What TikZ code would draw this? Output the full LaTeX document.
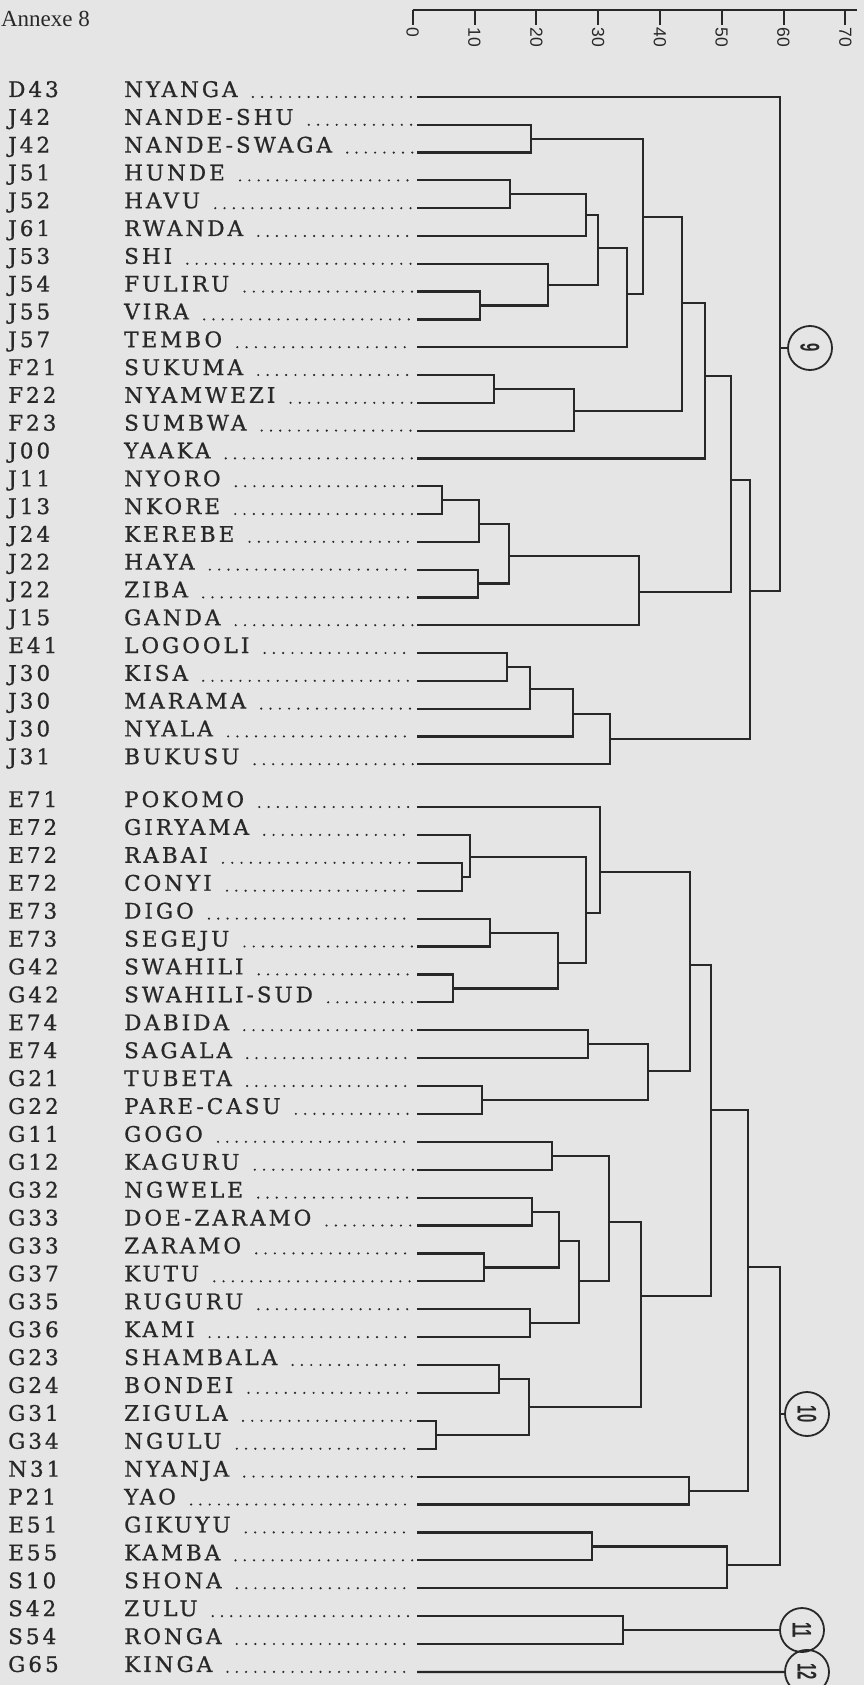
\documentclass[tikz,border=0pt]{standalone}
\usepackage{graphicx}
\usepackage{fontspec}
\setmainfont{DejaVu Serif}
\newfontfamily\annexfont{Liberation Serif}
\newfontfamily\axisfont{Liberation Sans}
\newfontfamily\labfont[LetterSpace=14,FakeBold=0.8]{DejaVu Serif}

\definecolor{paper}{RGB}{229,229,229}
\definecolor{ink}{RGB}{40,40,40}

% one merge of the tree: name, x of the bar, y of the outgoing branch, upper, lower
\newcommand\clade[5]{%
  \coordinate (#1) at (#2,#3);
  \draw[link] (#4) -- (#4 -| #1) -- (#5 -| #1) -- (#5);
}

\begin{document}
\begin{tikzpicture}[x=1pt,y=-1pt,
    link/.style={ink,line width=2.2pt},
    leader/.style={ink,line width=2.4pt,line cap=round,dash pattern=on 0pt off 9.3pt},
    code/.style={anchor=base west,inner sep=0pt,text=ink,font=\labfont\fontsize{21.5}{24}\selectfont},
    lang/.style={code},
    grp/.style={circle,draw=ink,line width=1.8pt,minimum size=44pt,inner sep=0pt,text=ink,rotate=-90,
      font=\axisfont\bfseries\fontsize{27}{27}\selectfont}]
  \useasboundingbox (0,0) rectangle (864,1685);
  \fill[paper] (0,0) rectangle (864,1685);

  \node[anchor=base east,inner sep=0pt,text=ink,font=\annexfont\fontsize{23}{26}\selectfont] (annex) at (90,26.5) {Annexe 8};

  % scale
  \coordinate (ax0) at (412.7,10);
  \coordinate (ax1) at (857,10);
  \draw[link,line width=2pt] (ax0) -- (ax1);
  \foreach \t in {0,10,...,70}{
    \draw[link,line width=2pt] ({412.7+6.18*\t},10) -- ++(0,15)
      node[anchor=west,rotate=-90,inner sep=2pt,text=ink,font=\axisfont\fontsize{17.5}{17.5}\selectfont] {\t};
  }

  % languages, first block
  \foreach \code/\lang/\key [count=\i from 0] in {D43/NYANGA/nyanga, J42/NANDE-SHU/nandeshu,
      J42/NANDE-SWAGA/nandeswaga, J51/HUNDE/hunde, J52/HAVU/havu, J61/RWANDA/rwanda, J53/SHI/shi,
      J54/FULIRU/fuliru, J55/VIRA/vira, J57/TEMBO/tembo, F21/SUKUMA/sukuma, F22/NYAMWEZI/nyamwezi,
      F23/SUMBWA/sumbwa, J00/YAAKA/yaaka, J11/NYORO/nyoro, J13/NKORE/nkore, J24/KEREBE/kerebe,
      J22/HAYA/haya, J22/ZIBA/ziba, J15/GANDA/ganda, E41/LOGOOLI/logooli, J30/KISA/kisa,
      J30/MARAMA/marama, J30/NYALA/nyala, J31/BUKUSU/bukusu}{
    \pgfmathsetmacro\yy{97+27.8*\i}
    \node[code] (c-\key) at (8,\yy) {\code};
    \node[lang] (n-\key) at (124,\yy) {\lang};
    \coordinate (d-\key) at (413,\yy);
    \coordinate (\key) at (417,\yy);
    \draw[leader] (n-\key.base east) ++(15,0) -- (d-\key);
  }

  % languages, second block
  \foreach \code/\lang/\key [count=\i from 0] in {E71/POKOMO/pokomo, E72/GIRYAMA/giryama,
      E72/RABAI/rabai, E72/CONYI/conyi, E73/DIGO/digo, E73/SEGEJU/segeju, G42/SWAHILI/swahili,
      G42/SWAHILI-SUD/swahilisud, E74/DABIDA/dabida, E74/SAGALA/sagala, G21/TUBETA/tubeta,
      G22/PARE-CASU/parecasu, G11/GOGO/gogo, G12/KAGURU/kaguru, G32/NGWELE/ngwele,
      G33/DOE-ZARAMO/doezaramo, G33/ZARAMO/zaramo, G37/KUTU/kutu, G35/RUGURU/ruguru,
      G36/KAMI/kami, G23/SHAMBALA/shambala, G24/BONDEI/bondei, G31/ZIGULA/zigula,
      G34/NGULU/ngulu, N31/NYANJA/nyanja, P21/YAO/yao, E51/GIKUYU/gikuyu, E55/KAMBA/kamba,
      S10/SHONA/shona, S42/ZULU/zulu, S54/RONGA/ronga, G65/KINGA/kinga}{
    \pgfmathsetmacro\yy{807+27.9*\i}
    \node[code] (c-\key) at (8,\yy) {\code};
    \node[lang] (n-\key) at (124,\yy) {\lang};
    \coordinate (d-\key) at (413,\yy);
    \coordinate (\key) at (417,\yy);
    \draw[leader] (n-\key.base east) ++(15,0) -- (d-\key);
  }

  % group 9
  \clade{m1}{531}{138.7}{nandeshu}{nandeswaga}
  \clade{m2}{510}{194.3}{hunde}{havu}
  \clade{m3}{586}{215}{m2}{rwanda}
  \clade{m4}{480}{305.5}{fuliru}{vira}
  \clade{m5}{548}{284.7}{shi}{m4}
  \clade{m6}{598}{248}{m3}{m5}
  \clade{m7}{627}{294}{m6}{tembo}
  \clade{m8}{643}{217}{m1}{m7}
  \clade{m9}{494}{389}{sukuma}{nyamwezi}
  \clade{m10}{574}{411}{m9}{sumbwa}
  \clade{m11}{682}{303}{m8}{m10}
  \clade{m12}{705}{376}{m11}{yaaka}
  \clade{m13}{442}{500.1}{nyoro}{nkore}
  \clade{m14}{479}{524}{m13}{kerebe}
  \clade{m15}{478}{583.5}{haya}{ziba}
  \clade{m16}{509}{556}{m14}{m15}
  \clade{m17}{639}{592}{m16}{ganda}
  \clade{m18}{731}{480}{m12}{m17}
  \clade{m19}{507}{666.9}{logooli}{kisa}
  \clade{m20}{530}{689}{m19}{marama}
  \clade{m21}{573}{714}{m20}{nyala}
  \clade{m22}{610}{739}{m21}{bukusu}
  \clade{m23}{750}{591}{m18}{m22}
  \clade{m24}{780}{348}{nyanga}{m23}
  \node[grp] (grp9) at (810,348) {\scalebox{0.55}[1]{9}};
  \draw[link] (m24) -- (grp9);

  % group 10
  \clade{n1}{462}{876.8}{rabai}{conyi}
  \clade{n2}{470}{857}{giryama}{n1}
  \clade{n3}{490}{932.6}{digo}{segeju}
  \clade{n4}{453}{988.4}{swahili}{swahilisud}
  \clade{n5}{558}{963}{n3}{n4}
  \clade{n6}{586}{913}{n2}{n5}
  \clade{n7}{600}{872}{pokomo}{n6}
  \clade{n8}{588}{1044.2}{dabida}{sagala}
  \clade{n9}{482}{1100}{tubeta}{parecasu}
  \clade{n10}{648}{1071}{n8}{n9}
  \clade{n11}{690}{965}{n7}{n10}
  \clade{n12}{552}{1155.8}{gogo}{kaguru}
  \clade{n13}{532}{1211.6}{ngwele}{doezaramo}
  \clade{n14}{484}{1267.4}{zaramo}{kutu}
  \clade{n15}{559}{1241}{n13}{n14}
  \clade{n16}{530}{1323.2}{ruguru}{kami}
  \clade{n17}{579}{1281}{n15}{n16}
  \clade{n18}{609}{1222}{n12}{n17}
  \clade{n19}{499}{1379}{shambala}{bondei}
  \clade{n20}{436}{1434.8}{zigula}{ngulu}
  \clade{n21}{529}{1407}{n19}{n20}
  \clade{n22}{641}{1296}{n18}{n21}
  \clade{n23}{711}{1110}{n11}{n22}
  \clade{n24}{689}{1490.6}{nyanja}{yao}
  \clade{n25}{748}{1267}{n23}{n24}
  \clade{n26}{592}{1546.4}{gikuyu}{kamba}
  \clade{n27}{727}{1565}{n26}{shona}
  \clade{n28}{780}{1414}{n25}{n27}
  \node[grp] (grp10) at (807,1414) {\scalebox{0.55}[1]{10}};
  \draw[link] (n28) -- (grp10);

  % groups 11 and 12
  \clade{z1}{623}{1630}{zulu}{ronga}
  \node[grp] (grp11) at (802,1630) {\scalebox{0.55}[1]{11}};
  \draw[link] (z1) -- (grp11);
  \node[grp] (grp12) at (807,1671.9) {\scalebox{0.55}[1]{12}};
  \draw[link] (kinga) -- (grp12);
\end{tikzpicture}
\end{document}
